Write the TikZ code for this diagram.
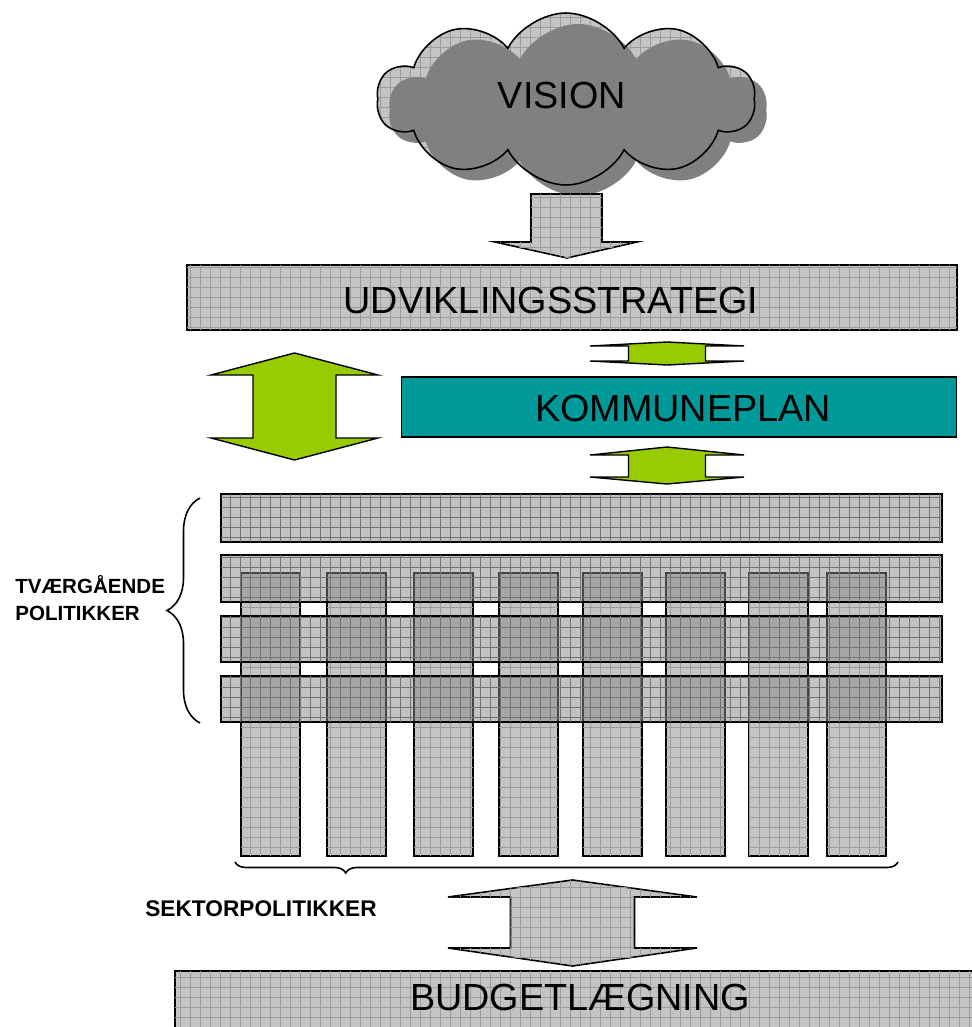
\documentclass[tikz,border=0pt]{standalone}
\usepackage{fontspec}
\setmainfont{Liberation Sans}
\usetikzlibrary{shapes.symbols,patterns.meta,decorations.pathreplacing}
\definecolor{lightchk}{HTML}{C4C4C4}
\definecolor{gridgray}{HTML}{9C9C9C}
\definecolor{rowgray}{HTML}{898989}
\definecolor{rowgrid}{HTML}{747474}
\definecolor{shadowgray}{HTML}{808080}
\definecolor{limegreen}{HTML}{99CC00}
\definecolor{tealplan}{HTML}{009999}

\begin{document}
\begin{tikzpicture}[x=0.02cm,y=-0.02cm,
    chk/.style = {fill=lightchk,
        postaction={pattern={Lines[angle=0,distance=0.2cm,line width=0.4pt]},pattern color=gridgray},
        postaction={pattern={Lines[angle=90,distance=0.2cm,line width=0.4pt]},pattern color=gridgray}},
    barbox/.style = {chk, draw, line width=0.9pt, inner sep=0, outer sep=0},
    rowbar/.style = {draw, line width=0.9pt, inner sep=0, outer sep=0, anchor=north west,
        fill=rowgray, fill opacity=0.5,
        postaction={pattern={Lines[angle=0,distance=0.2cm,line width=0.4pt]},pattern color=rowgrid,fill opacity=0.5},
        postaction={pattern={Lines[angle=90,distance=0.2cm,line width=0.4pt]},pattern color=rowgrid,fill opacity=0.5}},
    visioncloud/.style = {cloud, cloud puffs=10, cloud puff arc=125, minimum width=7.56cm, minimum height=3.44cm},
    greenarrow/.style = {fill=limegreen, draw, line width=0.8pt, line join=miter},
    bigtxt/.style = {font=\fontsize{21.5}{24}\selectfont},
    sidetxt/.style = {font=\bfseries\fontsize{11.7}{15.3}\selectfont, inner sep=0},
    mybrace/.style = {decorate, line width=0.9pt}
  ]
  \useasboundingbox[fill=white] (0,0) rectangle (971,1027);

  % vision cloud with its shadow
  \node[visioncloud, chk] (cloudbg) at (566,99) {};
  \node[visioncloud, fill=shadowgray] (cloudsh) at (578,110) {};
  \node[visioncloud, draw, line width=0.9pt] (cloud) at (566,99) {};
  \node[bigtxt] (vision) at (562,95.5) {VISION};
  \draw[barbox] (531,194) -- (602,194) -- (602,242) -- (637,242) -- (567,258) -- (495,242) -- (531,242) -- cycle;

  % strategy and plan
  \node[barbox, minimum width=15.4cm, minimum height=1.3cm] (udv) at (572,297.5) {};
  \node[bigtxt] (udvtxt) at (551,300.5) {UDVIKLINGSSTRATEGI};
  \node[fill=tealplan, draw, line width=0.6pt, inner sep=0, outer sep=0,
    minimum width=11.12cm, minimum height=1.2cm] (plan) at (679,407) {};
  \node[bigtxt] (plantxt) at (683,408.5) {KOMMUNEPLAN};
  \foreach \cx/\hh/\hs/\ta/\ba/\bb/\tb in {294.5/83.5/41.5/353/375/438/460,
      667/77/38.5/342/346/361/365, 667/77/38.5/447/455/477/484}{ % green double arrows
      \draw[greenarrow] (\cx,\ta) -- ({\cx+\hh},\ba) -- ({\cx+\hs},\ba) -- ({\cx+\hs},\bb)
        -- ({\cx+\hh},\bb) -- (\cx,\tb) -- ({\cx-\hh},\bb) -- ({\cx-\hs},\bb)
        -- ({\cx-\hs},\ba) -- ({\cx-\hh},\ba) -- cycle;
    }

  % sector columns under the cross rows
  \foreach \x [count=\c] in {241,327,414,499,583,666,749,827}{
      \node[barbox, anchor=north west, minimum width=1.18cm, minimum height=5.66cm] (S\c) at (\x,573) {};
    }
  \foreach \y/\h [count=\r] in {494/0.96,555/0.94,616/0.92,676/0.92}{
      \node[rowbar, minimum width=14.42cm, minimum height=\h cm] (T\r) at (221,\y) {};
    }

  % braces and labels
  \coordinate (tb1) at (200,723);
  \coordinate (tb2) at (200,498);
  \draw[mybrace, decoration={brace, amplitude=0.66cm}] (tb1) -- (tb2);
  \node[sidetxt, anchor=base west] (tvaer1) at (15,593) {TVÆRGÅENDE};
  \node[sidetxt, anchor=base west] (tvaer2) at (15,620) {POLITIKKER};
  \coordinate (sb1) at (898,862);
  \coordinate (sb2) at (235,862);
  \draw[mybrace, decoration={brace, amplitude=0.22cm, aspect=0.833}] (sb1) -- (sb2);
  \node[sidetxt, font=\bfseries\fontsize{12.9}{15}\selectfont, anchor=base west] (sektor) at (145,916) {SEKTORPOLITIKKER};

  % budget
  \draw[barbox] (572.5,880) -- (697,897) -- (634.5,897) -- (634.5,948) -- (697,948) -- (572.5,966)
    -- (448,948) -- (510.5,948) -- (510.5,897) -- (448,897) -- cycle;
  \node[barbox, anchor=north west, minimum width=16.3cm, minimum height=1.48cm] (budget) at (175,971) {};
  \node[bigtxt] (budgettxt) at (580,997.5) {BUDGETLÆGNING};
\end{tikzpicture}
\end{document}
